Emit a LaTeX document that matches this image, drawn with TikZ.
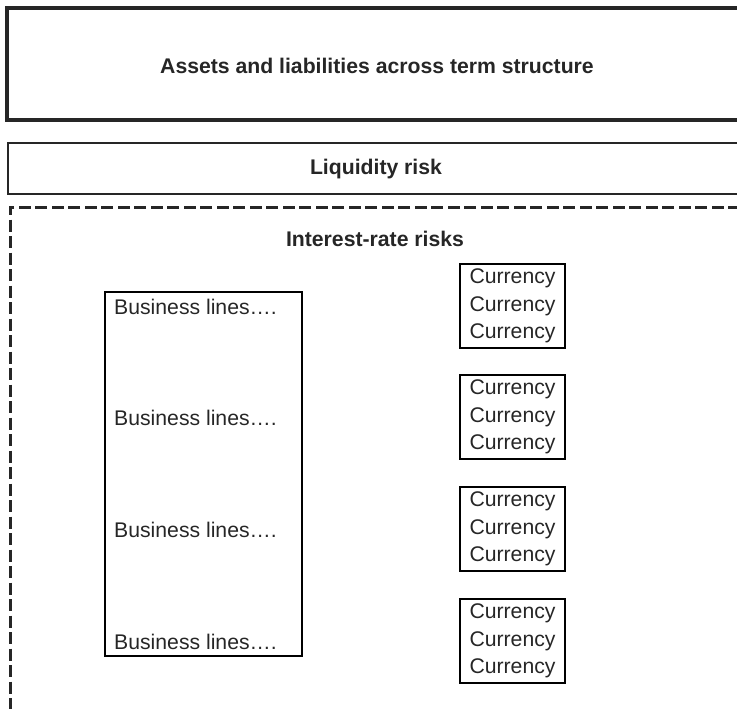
\documentclass[tikz,border=0pt]{standalone}
\usepackage{fontspec}
\setmainfont{Liberation Sans}
\begin{document}
\begin{tikzpicture}
		[x=1pt, y=-1pt,
		every node/.style={inner sep=1pt, font=\fontsize{21.2}{27.5}\selectfont, text=black!85},
		title/.style={font=\fontsize{21.2}{27.5}\selectfont\bfseries},
		curbox/.style={draw, line width=1.8pt, align=center, minimum width=105, minimum height=84}]
		\useasboundingbox (0,0) rectangle (737,709);
		
		% frames, open to the right
		\draw[line width=3.2pt, black!85] (740,8) -| (7,120) -- (740,120);
		\draw[line width=2.2pt, black!85] (740,143) -| (8,194) -- (740,194);
		\draw[line width=3pt, black!85, dash pattern=on 12pt off 4.5pt] (740,207) -| (10,712);
		
		\node[title] (assets) at (377,66) {Assets and liabilities across term structure};
		\node[title] (liquidity) at (376,169) {Liquidity risk};
		\node[title] (irr) at (375,239) {Interest-rate risks};
		
		\node[draw, line width=1.8pt, minimum width=197, minimum height=364] (biz) at (203.5,474) {};
		\foreach \y/\n in {307/1, 418/2, 530/3, 642/4}
		{
			\node[anchor=west] (line\n) at (113,\y) {Business lines….};
			\node[curbox] (cur\n) at (512.5,{\y-1}) {Currency\\Currency\\Currency};
		}
		\end{tikzpicture}
\end{document}
